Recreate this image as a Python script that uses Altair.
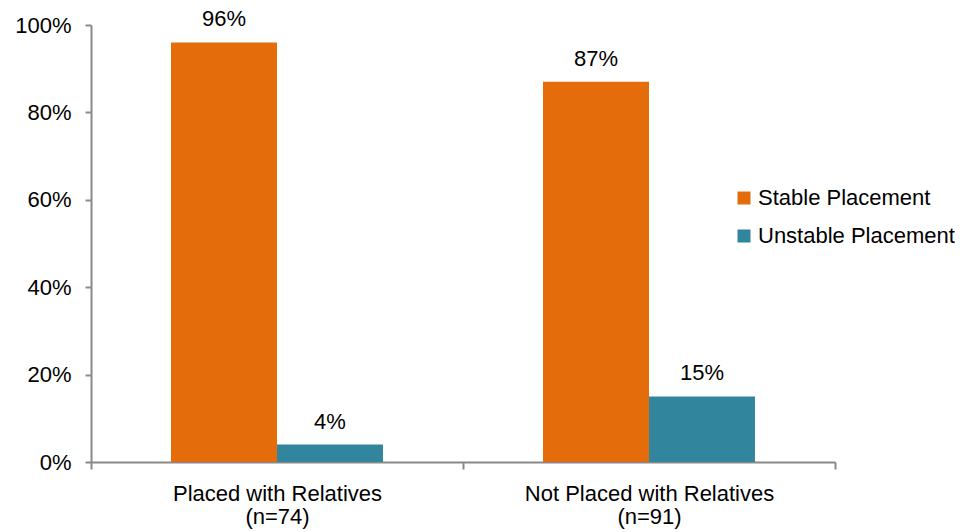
import altair as alt
import pandas as pd

groups = ["Placed with Relatives", "Not Placed with Relatives"]
group_n = ["(n=74)", "(n=91)"]
series = ["Stable Placement", "Unstable Placement"]
stable = [96, 87]
unstable = [4, 15]
colors = ["#E46C0A", "#31859C"]
y_ticks = [0, 20, 40, 60, 80, 100]

rows = []
labels = []
for g, n, s, u in zip(groups, group_n, stable, unstable):
    lab = g + "|" + n
    labels.append(lab)
    rows.append({"group": lab, "series": series[0], "value": s})
    rows.append({"group": lab, "series": series[1], "value": u})
df = pd.DataFrame(rows)
df["label"] = df["value"].astype(str) + "%"

W, H = 744, 437
FONT = "Liberation Sans"
FS = 22
AX = "#898989"

x = alt.X(
    "group:N",
    sort=labels,
    scale=alt.Scale(paddingInner=0, paddingOuter=0),
    axis=alt.Axis(
        title=None,
        labelExpr="split(datum.label, '|')",
        labelAngle=0,
        labelLimit=0,
        tickBand="extent",
        tickSize=7,
        tickColor=AX,
        domainColor=AX,
        domainWidth=2,
        tickWidth=2,
        labelFont=FONT,
        labelFontSize=FS,
        labelColor="#000000",
        labelPadding=14,
        labelLineHeight=23,
    ),
)
xo = alt.XOffset(
    "series:N",
    sort=series,
    scale=alt.Scale(paddingInner=0, paddingOuter=0.755),
)
y = alt.Y(
    "value:Q",
    scale=alt.Scale(domain=[0, 100]),
    axis=alt.Axis(
        title=None,
        values=y_ticks,
        labelExpr="datum.value + '%'",
        grid=False,
        tickSize=6,
        tickColor=AX,
        domainColor=AX,
        domainWidth=2,
        tickWidth=2,
        labelFont=FONT,
        labelFontSize=FS,
        labelColor="#000000",
        labelPadding=14,
    ),
)
color = alt.Color(
    "series:N",
    sort=series,
    scale=alt.Scale(domain=series, range=colors),
    legend=alt.Legend(
        title=None,
        orient="none",
        legendX=642,
        legendY=162,
        padding=0,
        symbolType="square",
        symbolSize=169,
        symbolStrokeWidth=0,
        symbolOpacity=1,
        labelFont=FONT,
        labelFontSize=FS,
        labelColor="#000000",
        labelLimit=0,
        labelOffset=3,
        rowPadding=16,
    ),
)

bars = alt.Chart(df).mark_bar(strokeWidth=0, opacity=1).encode(
    x=x, xOffset=xo, y=y, color=color
)
texts = alt.Chart(df).mark_text(
    baseline="alphabetic", dy=-16, font=FONT, fontSize=FS, color="#000000"
).encode(x=x, xOffset=xo, y=y, text="label:N")

chart = (
    alt.layer(bars, texts)
    .properties(
        width=W,
        height=H,
        background="white",
        autosize=alt.AutoSizeParams(type="none"),
        padding={"left": 83, "top": 17, "right": 131, "bottom": 70},
    )
    .configure_view(stroke=None)
)

chart.save("out.html", embed_options={"renderer": "svg", "actions": False})
